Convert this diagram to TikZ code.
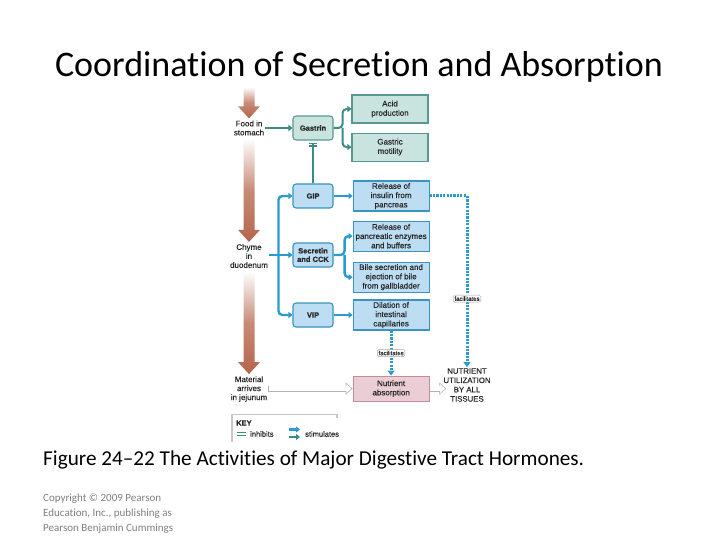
\documentclass[tikz,border=0pt]{standalone}
\usepackage{fontspec}
\setmainfont{Carlito}[Ligatures={TeX,NoCommon}]
\newfontfamily\diagfont{Liberation Sans}[FakeBold=0.35]
\usetikzlibrary{positioning, calc}
\usetikzlibrary{arrows.meta}

\definecolor{stimblue}{HTML}{2A9BCC}
\definecolor{bluefill}{HTML}{BCDDF2}
\definecolor{blueedge}{HTML}{3A93C2}
\definecolor{tealline}{HTML}{3A8C87}
\definecolor{tealfill}{HTML}{C9E3DF}
\definecolor{tealedge}{HTML}{579893}
\definecolor{pinkfill}{HTML}{EBCDD6}
\definecolor{pinkedge}{HTML}{C58B9C}
\definecolor{gutbrown}{HTML}{B5644A}
\definecolor{inkgray}{HTML}{262626}
\definecolor{notegray}{HTML}{7F7F7F}

% shaded block arrow running down the gut column
\newcommand{\gutarrow}[2]{%
  \shade[top color=white, bottom color=gutbrown, middle color=gutbrown!75!white]
    let \p1=($(#1)+(0,2)$), \p2=($(#2)+(0,-1)$) in
    (\x1-5.5pt,\y1) -- (\x1+5.5pt,\y1) -- (\x1+5.5pt,\y2+12pt) -- (\x1+11pt,\y2+12pt)
    -- (\x1,\y2) -- (\x1-11pt,\y2+12pt) -- (\x1-5.5pt,\y2+12pt) -- cycle;}

\begin{document}
\begin{tikzpicture}[
                x=1pt, y=-1pt,
                hormone/.style={draw=blueedge, fill=bluefill, line width=1.1pt, rounded corners=3pt, minimum width=40pt, minimum height=24pt, inner sep=1pt, align=center, text=inkgray, font=\diagfont\bfseries\fontsize{7.5}{8.5}\selectfont},
                tealhormone/.style={hormone, draw=tealedge, fill=tealfill},
                effect/.style={draw=blueedge, fill=bluefill, line width=1.1pt, minimum width=76pt, minimum height=30pt, inner sep=1pt, align=center, text=inkgray, font=\diagfont\fontsize{8}{9.3}\selectfont},
                tealeffect/.style={effect, draw=tealedge, fill=tealfill, minimum height=28pt},
                gutlabel/.style={align=center, inner sep=1pt, text=inkgray, font=\diagfont\fontsize{8}{9}\selectfont},
                facnote/.style={draw=gray!70, fill=white, solid, line width=0.5pt, rounded corners=1.5pt, inner sep=1.3pt, text=inkgray, font=\diagfont\fontsize{6}{6}\selectfont},
                keytext/.style={anchor=west, inner sep=0pt, text=inkgray, font=\diagfont\fontsize{7.5}{8}\selectfont},
                stim/.style={draw=stimblue, line width=2.4pt, rounded corners=4pt, -{Triangle[length=4pt,width=6pt]}},
                tealstim/.style={stim, draw=tealline, line width=2pt},
                inhibit/.style={draw=tealline, line width=1.3pt, shorten >=2pt, -{Bar[width=8pt,line width=1.2pt,sep=1.6pt]Bar[width=8pt,line width=1.2pt]}},
                facil/.style={draw=stimblue, line width=3pt, dash pattern=on 2.2pt off 1.2pt, -{Triangle[length=5pt,width=7pt]}},
                hollow/.style={draw=gray!60, line width=6pt, -{Triangle[length=7pt,width=12pt]},
                  postaction={draw=white, line width=4.4pt, shorten >=1.2pt, shorten <=0.8pt, -{Triangle[length=5pt,width=8.8pt]}}}
            ]
                \fill[white] (0,0) rectangle (720,540);
                \useasboundingbox (0,0) rectangle (720,540);

                % Title, caption and credit
                \node[anchor=base, font=\fontsize{36}{42}\selectfont] (title) at (359,77) {Coordination of Secretion and Absorption};
                \node[anchor=base west, inner sep=0pt, font=\fontsize{21.2}{25}\selectfont] (caption) at (43,465) {Figure 24–22 The Activities of Major Digestive Tract Hormones.};
                \node[anchor=north west, inner sep=0pt, align=left, text=notegray, font=\fontsize{11}{15}\selectfont] (credit) at (43,494) {Copyright © 2009 Pearson\\Education, Inc., publishing as\\Pearson Benjamin Cummings};

                % Gut column
                \coordinate (gtop) at (249,85);
                \node[gutlabel] (food) at (249,128) {Food in\\stomach};
                \node[gutlabel] (chyme) at (249,256) {Chyme\\in\\duodenum};
                \node[gutlabel] (jejunum) at (249,389) {Material\\arrives\\in jejunum};
                \gutarrow{gtop}{food.north}
                \gutarrow{food.south}{chyme.north}
                \gutarrow{chyme.south}{jejunum.north}

                % Hormones
                \node[tealhormone] (gastrin) at (313,128) {Gastrin};
                \node[hormone] (gip) at (313,196) {GIP};
                \node[hormone] (secretin) at (313,255) {Secretin\\and CCK};
                \node[hormone] (vip) at (313,315) {VIP};

                % Effects
                \node[tealeffect] (acid) at (390,109) {Acid\\production};
                \node[tealeffect, below=9pt of acid] (motility) {Gastric\\motility};
                \node[effect, right=19pt of gip] (insulin) {Release of\\insulin from\\pancreas};
                \node[effect, below=9pt of insulin] (enzymes) {Release of\\pancreatic enzymes\\and buffers};
                \node[effect, below=10pt of enzymes] (bile) {Bile secretion and\\ejection of bile\\from gallbladder};
                \node[effect, right=19pt of vip] (dilation) {Dilation of\\intestinal\\capillaries};
                \node[effect, fill=pinkfill, draw=pinkedge, minimum height=25pt, below=45pt of dilation] (absorb) {Nutrient\\absorption};
                \node[gutlabel, font=\diagfont\fontsize{7.8}{9.3}\selectfont] (utiliz) at (467,385) {NUTRIENT\\UTILIZATION\\BY ALL\\TISSUES};

                % Stimulation and inhibition
                \coordinate (gsplit) at ($(gastrin.east)+(9,0)$);
                \coordinate (cspine) at ($(secretin.west)+(-14,0)$);
                \coordinate (ssplit) at ($(secretin.east)+(11,0)$);
                \path[tealstim] (food.east) -- (gastrin.west);
                \path[tealstim] (gastrin.east) -- (gsplit) |- (acid.west);
                \path[tealstim] (gsplit) |- (motility.west);
                \path[inhibit] (gip.north) -- (gastrin.south);
                \path[stim] (chyme.east |- secretin.west) -- (secretin.west);
                \path[stim] (cspine) |- (gip.west);
                \path[stim] (cspine) |- (vip.west);
                \path[stim] (gip.east) -- (insulin.west);
                \path[stim] (secretin.east) -- (ssplit) |- (enzymes.west);
                \path[stim] (ssplit) |- (bile.west);
                \path[stim] (vip.east) -- (dilation.west);

                % Facilitation and nutrient flow
                \path[facil] (insulin.east) -| node[facnote, pos=0.8] {facilitates} (utiliz.north);
                \path[facil] (dilation.south) -- node[facnote] {facilitates} (absorb.north);
                \path[hollow] (jejunum.east |- absorb.west) -- (absorb.west);
                \path[hollow] (absorb.east) -- ($(absorb.east -| utiliz.west)+(4,0)$);

                % Key
                \draw[gray!45, line width=1.2pt] (337,418) -- (337,414.5) -- (232,414.5) -- (232,442);
                \node[keytext, font=\diagfont\bfseries\fontsize{7.5}{8}\selectfont] (keytitle) at (236,423) {KEY};
                \coordinate (inhA) at (237,432.3);
                \coordinate (inhB) at (246,432.3);
                \coordinate (inhC) at (237,435.5);
                \coordinate (inhD) at (246,435.5);
                \draw[tealline, line width=1.1pt] (inhA) -- (inhB);
                \draw[tealline, line width=1.1pt] (inhC) -- (inhD);
                \node[keytext] (inhibtext) at (250,434) {inhibits};
                \coordinate (stA) at (289,429.5);
                \coordinate (stB) at (300,429.5);
                \coordinate (stC) at (289,437);
                \coordinate (stD) at (300,437);
                \path[stim] (stA) -- (stB);
                \path[tealstim] (stC) -- (stD);
                \node[keytext] (stimtext) at (305,434) {stimulates};
            \end{tikzpicture}
\end{document}
